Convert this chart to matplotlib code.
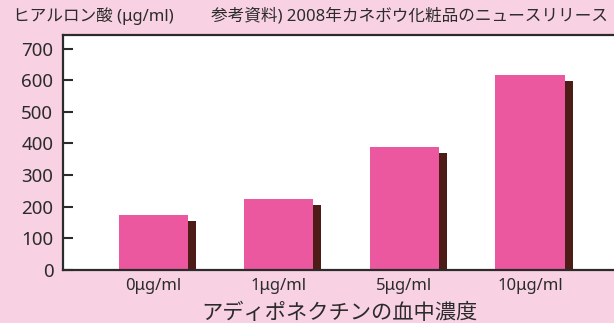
import matplotlib
matplotlib.use("Agg")
import matplotlib.pyplot as plt
import matplotlib.patheffects as pe

plt.rcParams['font.family'] = ['Noto Sans', 'Noto Sans CJK JP', 'DejaVu Sans']

# Hyaluronic acid production by adiponectin concentration
categories = ["0μg/ml", "1μg/ml", "5μg/ml", "10μg/ml"]
values = [175, 225, 390, 615]
y_ticks = [0, 100, 200, 300, 400, 500, 600, 700]

bg = "#F8D2E3"
bar_color = "#EC58A0"
shadow_color = "#4E1C16"
ink = "#2B2B2B"

W, H = 614, 323
fig = plt.figure(figsize=(W / 100, H / 100), dpi=100, facecolor=bg)
ax = fig.add_axes([63 / W, (H - 270) / H, (616 - 63) / W, (270 - 35) / H])
ax.set_facecolor("white")

x = list(range(len(categories)))
# drop shadow offset: 8 px right, 6 px down (in points)
shadow = pe.SimplePatchShadow(offset=(8 * 0.72, -6 * 0.72),
                              shadow_rgbFace=shadow_color, alpha=1.0)
bars = ax.bar(x, values, width=0.55, color=bar_color, edgecolor="none",
              path_effects=[shadow, pe.Normal()], zorder=2)

ax.set_xlim(-0.72, 3.685)
ax.set_ylim(0, 743)
ax.set_yticks(y_ticks)
ax.set_yticklabels([str(v) for v in y_ticks])
ax.set_xticks(x)
ax.set_xticklabels(categories)

for side in ("left", "bottom", "top"):
    ax.spines[side].set_color(ink)
    ax.spines[side].set_linewidth(1.6)
ax.spines["right"].set_visible(False)

ax.tick_params(axis="y", direction="in", length=7.5, width=1.5, color=ink,
               labelsize=13.5, labelcolor=ink, pad=7)
ax.tick_params(axis="x", length=0, labelsize=12, labelcolor=ink, pad=6)

ax.set_xlabel("アディポネクチンの血中濃度", fontsize=15.3, color=ink, labelpad=6)

fig.text(13 / W, 1 - 16 / H, "ヒアルロン酸 (μg/ml)", fontsize=12, color=ink,
         ha="left", va="center")
fig.text(211 / W, 1 - 16 / H, "参考資料) 2008年カネボウ化粧品のニュースリリース",
         fontsize=12.0, color=ink, ha="left", va="center")

fig.savefig("out.png", dpi=100, facecolor=bg)
